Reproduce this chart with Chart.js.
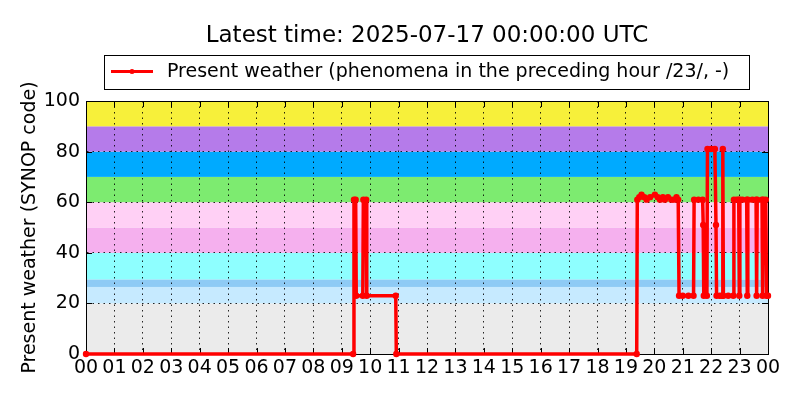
<!DOCTYPE html>
<html>
<head>
<meta charset="utf-8">
<script src="https://cdn.jsdelivr.net/npm/chart.js@4.4.1/dist/chart.umd.min.js"></script>
<style>
	html, body { margin: 0; padding: 0; background: #fff; }
	canvas { display: block; }
</style>
</head>
<body>
<canvas id="chart" width="800" height="400"></canvas>
<script>
/* global Chart */
// Hours since 00 UTC and the present weather code read at that time.
var times = [
	0, 9.40, 9.43, 9.49, 9.51, 9.74, 9.76, 9.86, 9.88, 10.90, 10.92,
	19.38, 19.40, 19.47, 19.55, 19.65, 19.73, 19.85, 20.02, 20.12, 20.20, 20.30, 20.37,
	20.48, 20.60, 20.70, 20.78, 20.84, 20.87, 21.0, 21.2, 21.38, 21.40, 21.55, 21.70,
	21.72, 21.74, 21.85, 21.87, 22.00, 22.13, 22.17, 22.19, 22.30, 22.39, 22.41, 22.43,
	22.60, 22.78, 22.80, 22.90, 22.97, 22.99, 23.01, 23.10, 23.25, 23.27, 23.29, 23.45,
	23.58, 23.60, 23.62, 23.79, 23.81, 23.83, 23.92, 23.95, 24.0
];
var codes = [
	0, 0, 61, 61, 23, 23, 61, 61, 23, 23, 0,
	0, 61, 62, 63, 62, 61, 62, 63, 62, 61, 62, 61,
	62, 61, 61, 62, 61, 23, 23, 23, 23, 61, 61, 61,
	51, 23, 23, 81, 81, 81, 51, 23, 23, 23, 81, 23,
	23, 23, 61, 61, 61, 23, 61, 61, 61, 23, 61, 61,
	61, 23, 61, 61, 23, 61, 61, 23, 23
];

// Background bands of code groups.
var bandFrom   = [ 0, 20, 26.5, 29.5, 40, 50, 60, 70, 80, 90 ];
var bandTo     = [ 20, 26.5, 29.5, 40, 50, 60, 70, 80, 90, 100 ];
var bandColors = [ '#ebebeb', '#c6eaff', '#8ecbf5', '#8effff', '#f5b0ee', '#ffd0f5', '#7deb70', '#00aaff', '#b57bea', '#f7f03a' ];

var hourTicks = [ 0, 1, 2, 3, 4, 5, 6, 7, 8, 9, 10, 11, 12, 13, 14, 15, 16, 17, 18, 19, 20, 21, 22, 23, 24 ];
var codeTicks = [ 0, 20, 40, 60, 80, 100 ];

var titleText  = 'Latest time: 2025-07-17 00:00:00 UTC';
var seriesName = 'Present weather (phenomena in the preceding hour /23/, -)';
var yTitle     = 'Present weather (SYNOP code)';

( function () {
	'use strict';

	var FONT = "'DejaVu Sans', sans-serif";

	// Coloured bands behind the grid.
	var bandsPlugin = {
		id: 'bands',
		beforeDraw: function ( chart ) {
			var ctx = chart.ctx;
			var area = chart.chartArea;
			var y = chart.scales.y;
			ctx.save();
			for ( var i = 0; i < bandFrom.length; i++ ) {
				var top = y.getPixelForValue( bandTo[ i ] );
				var bot = y.getPixelForValue( bandFrom[ i ] );
				ctx.fillStyle = bandColors[ i ];
				ctx.fillRect( area.left, top, area.right - area.left, bot - top );
			}
			ctx.restore();
		},
	};

	// Full frame plus inward tick marks, matplotlib classic style.
	var framePlugin = {
		id: 'frame',
		beforeDatasetsDraw: function ( chart ) {
			var ctx = chart.ctx;
			var a = chart.chartArea;
			var x = chart.scales.x;
			var y = chart.scales.y;
			ctx.save();
			ctx.strokeStyle = '#000';
			ctx.lineWidth = 1;
			ctx.beginPath();
			hourTicks.forEach( function ( h ) {
				var px = Math.round( x.getPixelForValue( h ) ) + 0.5;
				ctx.moveTo( px, a.bottom ); ctx.lineTo( px, a.bottom - 6 );
				ctx.moveTo( px, a.top );    ctx.lineTo( px, a.top + 6 );
			} );
			codeTicks.forEach( function ( v ) {
				var py = Math.round( y.getPixelForValue( v ) ) + 0.5;
				ctx.moveTo( a.left, py );  ctx.lineTo( a.left + 6, py );
				ctx.moveTo( a.right, py ); ctx.lineTo( a.right - 6, py );
			} );
			ctx.stroke();
			ctx.strokeRect( Math.round( a.left ) + 0.5, Math.round( a.top ) + 0.5,
				Math.round( a.right - a.left ), Math.round( a.bottom - a.top ) );
			ctx.restore();
		},
		afterDraw: function ( chart ) {
			var ctx = chart.ctx;
			ctx.save();
			// Title
			ctx.fillStyle = '#000';
			ctx.font = '23px ' + FONT;
			ctx.textAlign = 'center';
			ctx.textBaseline = 'alphabetic';
			ctx.fillText( titleText, 427, 42 );
			// Legend box
			ctx.fillStyle = '#fff';
			ctx.fillRect( 104, 55, 645, 34 );
			ctx.strokeStyle = '#000';
			ctx.lineWidth = 1;
			ctx.strokeRect( 104.5, 55.5, 645, 34 );
			ctx.strokeStyle = '#ff0000';
			ctx.lineWidth = 3;
			ctx.beginPath();
			ctx.moveTo( 111, 71.5 );
			ctx.lineTo( 153, 71.5 );
			ctx.stroke();
			ctx.fillStyle = '#ff0000';
			ctx.beginPath();
			ctx.arc( 132, 71.5, 2.5, 0, Math.PI * 2 );
			ctx.fill();
			ctx.fillStyle = '#000';
			ctx.font = '19px ' + FONT;
			ctx.textAlign = 'left';
			ctx.textBaseline = 'middle';
			ctx.fillText( chart.data.datasets[ 0 ].label, 167, 72 );
			ctx.restore();
		},
	};

	function pad2( v ) {
		var h = v % 24;
		return ( h < 10 ? '0' : '' ) + h;
	}

	var points = times.map( function ( t, i ) {
		return { x: t, y: codes[ i ] };
	} );

	new Chart( document.getElementById( 'chart' ), {
		type: 'line',
		data: {
			datasets: [
				{
					label:                seriesName,
					data:                 points,
					borderColor:          '#ff0000',
					backgroundColor:      '#ff0000',
					borderWidth:          3.5,
					pointRadius:          3.2,
					pointBorderWidth:     0,
					pointBackgroundColor: '#ff0000',
					tension:              0,
					clip:                 false,
				},
			],
		},
		options: {
			responsive: false,
			animation:  false,
			events:     [],
			layout: {
				padding: { top: 101, right: 32, bottom: 0, left: 0 },
			},
			plugins: {
				legend:  { display: false },
				title:   { display: false },
				tooltip: { enabled: false },
			},
			scales: {
				x: {
					type: 'linear',
					min:  0,
					max:  24,
					afterFit: function ( s ) { s.height = 46; },
					afterBuildTicks: function ( s ) {
						s.ticks = hourTicks.map( function ( h ) { return { value: h }; } );
					},
					ticks: {
						color:       '#000',
						padding:     3,
						maxRotation: 0,
						autoSkip:    false,
						font:        { family: FONT, size: 19 },
						callback:    function ( v ) { return pad2( v ); },
					},
					grid: {
						color:      'rgba(0,0,0,0.85)',
						lineWidth:  1,
						drawTicks:  false,
					},
					border: { display: true, color: '#000', dash: [ 1.5, 4 ] },
				},
				y: {
					min: 0,
					max: 100,
					afterFit: function ( s ) { s.width = 86; },
					afterBuildTicks: function ( s ) {
						s.ticks = codeTicks.map( function ( v ) { return { value: v }; } );
					},
					title: {
						display: true,
						text:    yTitle,
						color:   '#000',
						font:    { family: FONT, size: 19 },
						padding: { top: 19, bottom: 0 },
					},
					ticks: {
						color:   '#000',
						padding: 6,
						font:    { family: FONT, size: 19 },
					},
					grid: {
						color:     'rgba(0,0,0,0.85)',
						lineWidth: 1,
						drawTicks: false,
					},
					border: { display: true, color: '#000', dash: [ 1.5, 4 ] },
				},
			},
		},
		plugins: [ bandsPlugin, framePlugin ],
	} );
} )();
</script>
</body>
</html>
